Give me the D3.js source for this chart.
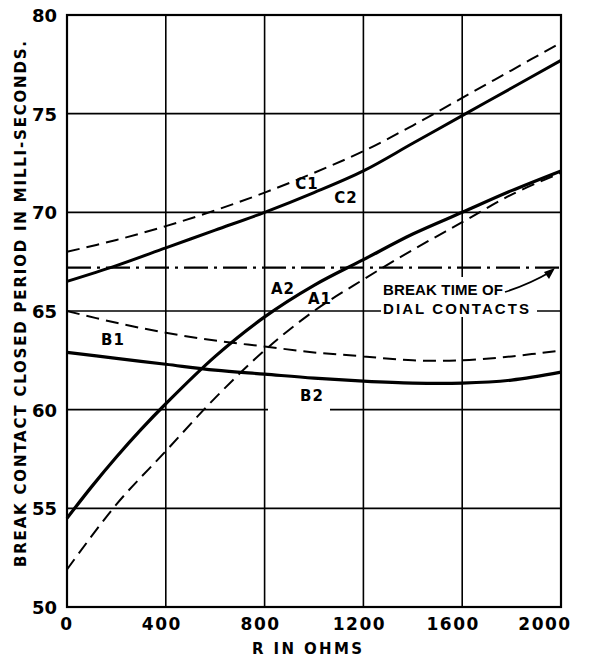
<!DOCTYPE html>
<html>
<head>
<meta charset="utf-8">
<script src="https://cdn.jsdelivr.net/npm/d3@7"></script>
<style>
  body { margin: 0; background: #fff; }
  svg { display: block; }
  text { font-family: "DejaVu Sans", sans-serif; font-weight: bold; fill: #000; }
</style>
</head>
<body>
<svg id="chart" width="590" height="658"></svg>
<script>
// ---- data ----
const rC1 = [0, 200, 400, 600, 800, 1000, 1200, 1400, 1600, 1800, 2000];
const vC1 = [68.0, 68.6, 69.3, 70.1, 71.0, 72.0, 73.1, 74.4, 75.8, 77.2, 78.6];
const rC2 = [0, 200, 400, 600, 800, 1000, 1200, 1400, 1600, 1800, 2000];
const vC2 = [66.5, 67.3, 68.2, 69.1, 70.0, 71.0, 72.1, 73.5, 74.9, 76.3, 77.7];
const rA2 = [0, 100, 200, 300, 400, 600, 800, 1000, 1200, 1400, 1600, 1800, 2000];
const vA2 = [54.5, 56.1, 57.6, 59.0, 60.3, 62.7, 64.7, 66.3, 67.6, 68.9, 70.0, 71.1, 72.1];
const rA1 = [0, 200, 400, 600, 800, 1000, 1200, 1400, 1600, 1800, 2000];
const vA1 = [51.9, 55.2, 57.9, 60.6, 63.0, 65.0, 66.6, 68.1, 69.5, 70.9, 72.0];
const rB1 = [0, 200, 400, 600, 800, 1000, 1200, 1400, 1600, 1800, 2000];
const vB1 = [65.0, 64.4, 63.9, 63.5, 63.2, 62.9, 62.7, 62.5, 62.5, 62.7, 63.0];
const rB2 = [0, 200, 400, 600, 800, 1000, 1200, 1400, 1600, 1800, 2000];
const vB2 = [62.9, 62.6, 62.3, 62.0, 61.8, 61.6, 61.45, 61.35, 61.35, 61.5, 61.9];
const rBreak = [0, 2000];
const vBreak = [67.2, 67.2];
const xTicks = [0, 400, 800, 1200, 1600, 2000];
const yTicks = [50, 55, 60, 65, 70, 75, 80];
const xTitle = "R IN OHMS";
const yTitle = "BREAK CONTACT CLOSED PERIOD IN MILLI-SECONDS.";

// ---- layout ----
const svg = d3.select("#chart");
const m = { left: 67, right: 561, top: 15, bottom: 607 };
const x = d3.scaleLinear().domain([0, 2000]).range([m.left, m.right]);
const y = d3.scaleLinear().domain([50, 80]).range([m.bottom, m.top]);

// grid
const grid = svg.append("g").attr("stroke", "#000").attr("stroke-width", 1.6);
grid.selectAll("line.h").data(yTicks.filter(d => d > 50 && d < 80)).join("line")
  .attr("x1", m.left).attr("x2", m.right).attr("y1", d => y(d)).attr("y2", d => y(d));
grid.selectAll("line.v").data(xTicks.filter(d => d > 0 && d < 2000)).join("line")
  .attr("class", "v")
  .attr("y1", m.top).attr("y2", m.bottom).attr("x1", d => x(d)).attr("x2", d => x(d));

// frame
svg.append("rect").attr("x", m.left).attr("y", m.top)
  .attr("width", m.right - m.left).attr("height", m.bottom - m.top)
  .attr("fill", "none").attr("stroke", "#000").attr("stroke-width", 2.2);

// label masks (white backgrounds)
function mask(x0, y0, w, h) {
  svg.append("rect").attr("x", x0).attr("y", y0).attr("width", w).attr("height", h).attr("fill", "#fff");
}
mask(381, 277, 156, 40);
mask(268, 386, 62, 25);

// curves
const line = d3.line().x(d => x(d[0])).y(d => y(d[1])).curve(d3.curveCatmullRom.alpha(0.5));
function curve(rs, vs, w, dash) {
  svg.append("path").datum(rs.map((r, i) => [r, vs[i]]))
    .attr("d", line).attr("fill", "none").attr("stroke", "#000")
    .attr("stroke-width", w).attr("stroke-dasharray", dash || null);
}
curve(rBreak, vBreak, 2.4, "24,6,3,6");
curve(rC1, vC1, 2, "13,7");
curve(rC2, vC2, 3);
curve(rA1, vA1, 2, "13,7");
curve(rA2, vA2, 3.2);
curve(rB1, vB1, 2, "13,7");
curve(rB2, vB2, 3.2);

// axis tick labels
svg.selectAll("text.yt").data(yTicks).join("text")
  .attr("x", 57).attr("y", d => y(d) + 7)
  .attr("text-anchor", "end").attr("font-size", 18)
  .text(d => d);
svg.selectAll("text.xt").data(xTicks).join("text")
  .attr("x", d => x(d) + (d === 2000 ? -16 : d >= 1600 ? -9 : d > 0 ? -4 : 0))
  .attr("y", 630).attr("text-anchor", "middle").attr("font-size", 17)
  .attr("letter-spacing", 1.5)
  .text(d => d);

// axis titles
svg.append("text").attr("x", 307).attr("y", 654).attr("text-anchor", "middle")
  .attr("font-size", 15).attr("textLength", 110).attr("lengthAdjust", "spacing").text(xTitle);
svg.append("text").attr("transform", "translate(26,304) rotate(-90)")
  .attr("text-anchor", "middle").attr("font-size", 15)
  .attr("textLength", 526).attr("lengthAdjust", "spacing").text(yTitle);

// curve labels
const labels = [["C1", 307, 189], ["C2", 346, 203], ["A2", 283, 294], ["A1", 320, 304],
                ["B1", 113, 345], ["B2", 312, 401]];
svg.selectAll("text.cl").data(labels).join("text")
  .attr("x", d => d[1]).attr("y", d => d[2]).attr("text-anchor", "middle")
  .attr("font-size", 15).attr("letter-spacing", 1).text(d => d[0]);

svg.append("text").attr("x", 383).attr("y", 295).attr("font-size", 15)
  .style("font-family", "'Liberation Sans', Arial, sans-serif")
  .attr("textLength", 120).attr("lengthAdjust", "spacing").text("BREAK TIME OF");
svg.append("text").attr("x", 383).attr("y", 314).attr("font-size", 15)
  .style("font-family", "'Liberation Sans', Arial, sans-serif")
  .attr("textLength", 146).attr("lengthAdjust", "spacing").text("DIAL CONTACTS");
// leader
svg.append("path").attr("d", "M505,292 Q530,284 552,271")
  .attr("fill", "none").attr("stroke", "#000").attr("stroke-width", 1.8);
svg.append("path").attr("d", "M544,272 L555,268 L549,279 Z").attr("fill", "#000");
</script>
</body>
</html>
